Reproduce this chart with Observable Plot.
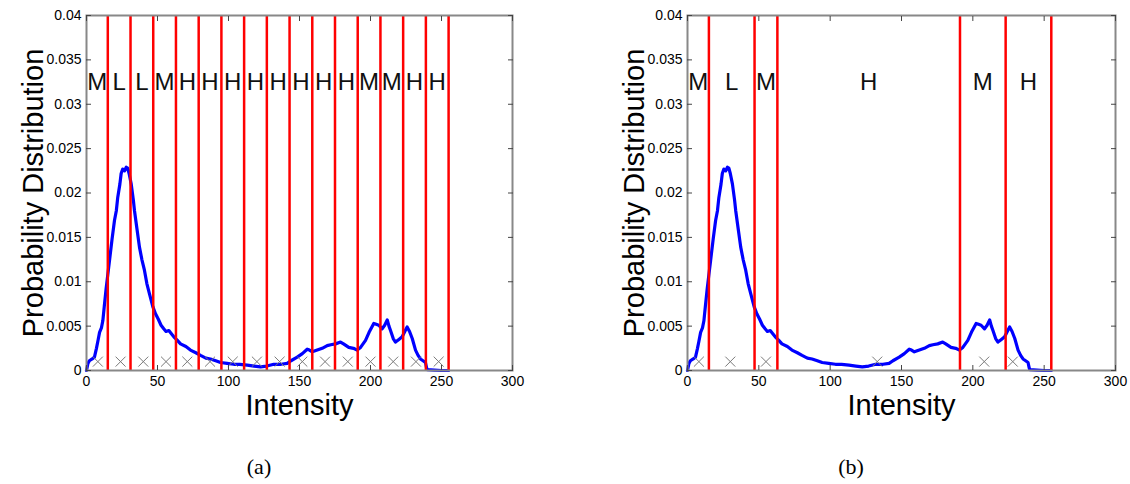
<!DOCTYPE html>
<html><head><meta charset="utf-8">
<script src="https://cdn.jsdelivr.net/npm/d3@7"></script>
<script src="https://cdn.jsdelivr.net/npm/@observablehq/plot@0.6"></script>
<style>
body{margin:0;background:#fff;width:1130px;height:484px;position:relative;overflow:hidden;font-family:"Liberation Sans",Arial,sans-serif}
.panel{position:absolute;top:0}
.cap{position:absolute;top:454px;font-family:"Liberation Serif","Times New Roman",serif;font-size:22px;transform:translateX(-50%);color:#000}
</style></head><body>
<div id="a" class="panel" style="left:0"></div>
<div id="b" class="panel" style="left:565px"></div>
<div class="cap" style="left:259px">(a)</div>
<div class="cap" style="left:851px">(b)</div>
<script>
// Histogram (probability distribution of intensity)
const intensity = [0,1,2,4,5.6,7,8,9.2,10.5,11.5,12.5,13.8,15,16.2,18,19.7,21,22,23.5,24.4,25.5,26.8,28,29,30,31.5,33,33.8,35.5,37.3,39,40.8,42.5,44.4,46.7,48.6,50.5,52.5,54.4,56,58,59.5,61.5,64,66.2,70,73.2,77,80.3,84,87.3,91,94.4,99,103.7,108,113.2,118,122.5,127,131.9,137,141.3,144,148.4,152,155.4,157,159,162.5,166,169.5,172,175.4,178.9,181,184.7,188,190.6,193,196.5,199,202.3,204,205.8,208.2,210,211.8,213,214.1,216,217.6,220,222.3,224.5,225.8,227.5,229.4,231.7,233.5,235.2,237,238.7,239.5,240,245,250,255];
const probability = [0,0.0008,0.0011,0.0013,0.0015,0.0025,0.0033,0.0043,0.0048,0.0056,0.0072,0.0092,0.0108,0.0124,0.0148,0.0169,0.0180,0.0195,0.0210,0.0222,0.0227,0.0225,0.0229,0.0228,0.0222,0.0210,0.0192,0.0180,0.0160,0.0139,0.0125,0.0113,0.0098,0.0086,0.0072,0.0064,0.0058,0.0051,0.0047,0.0044,0.0045,0.0042,0.0038,0.0034,0.0030,0.0027,0.0023,0.0020,0.0017,0.0014,0.0013,0.0011,0.0009,0.0008,0.0007,0.0007,0.0006,0.0005,0.0004,0.0005,0.0007,0.0007,0.0008,0.0011,0.0015,0.0019,0.0024,0.0023,0.0021,0.0023,0.0025,0.0028,0.0029,0.0030,0.0032,0.0030,0.0026,0.0025,0.0023,0.0026,0.0034,0.0043,0.0053,0.0052,0.0051,0.0047,0.0051,0.0057,0.0050,0.0045,0.0036,0.0032,0.0035,0.0038,0.0045,0.0049,0.0044,0.0036,0.0023,0.0017,0.0013,0.0011,0.0009,0.0003,0.0001,0.00005,0,0];

const xTicks = [0,50,100,150,200,250,300];
const yTicks = [0,0.005,0.01,0.015,0.02,0.025,0.03,0.035,0.04];
const yTickLabels = ["0","0.005","0.01","0.015","0.02","0.025","0.03","0.035","0.04"];

// Panel (a)
const boundariesA = [15,31,47,63,79,95,111,127,143,159,175,191,207,223,239,255];
const labelsA = ["M","L","L","M","H","H","H","H","H","H","H","H","M","M","H","H"];
const crossesA = [8,24,40,56,71,87,103,120,136,152,168,184,200,216,232,248];

// Panel (b)
const boundariesB = [15,47,63,191,223,255];
const labelsB = ["M","L","M","H","M","H"];
const crossesB = [8,30,55,133,208,228];

const labelLevel = 0.0325;
const crossLevel = 0.001;
const xTitle = "Intensity";
const yTitle = "Probability Distribution";

const FONT = "'Liberation Sans', Arial, Helvetica, sans-serif";

function panel(el, {boundaries, labels, crosses, marginLeft, marginRight}) {
  const curve = intensity.map((x, i) => ({x, y: probability[i]}));
  const edges = [0, ...boundaries];
  const segs = labels.map((t, i) => ({t, x: (edges[i] + edges[i + 1]) / 2}));
  const chart = Plot.plot({
    width: 565, height: 430,
    marginLeft, marginRight, marginTop: 15, marginBottom: 60,
    x: {domain: [0, 300]},
    y: {domain: [0, 0.04]},
    style: {fontFamily: FONT, fontSize: "14px", color: "#000", background: "transparent", overflow: "visible"},
    marks: [
      Plot.line(curve, {x: "x", y: "y", stroke: "#0000ff", strokeWidth: 3.2}),
      Plot.dot(crosses, {x: d => d, y: () => crossLevel, symbol: "times", r: 4.6, stroke: "#7a7a7a", strokeWidth: 1}),
      Plot.ruleX(boundaries, {stroke: "#ff0000", strokeWidth: 2.5}),
      Plot.text(segs, {x: "x", y: () => labelLevel, text: "t", fontSize: 24, fill: "#111"}),
      Plot.frame({stroke: "#888", strokeWidth: 2}),
      Plot.axisX({ticks: xTicks, tickSize: -5, tickPadding: 11, label: null, fontSize: 14, stroke: "#444"}),
      Plot.axisX({anchor: "top", ticks: xTicks, tickSize: -5, tickFormat: () => "", label: null, stroke: "#444"}),
      Plot.axisY({ticks: yTicks, tickSize: -5, tickPadding: 10, tickFormat: d => yTickLabels[yTicks.indexOf(d)], label: null, fontSize: 14, stroke: "#444"}),
      Plot.axisY({anchor: "right", ticks: yTicks, tickSize: -5, tickFormat: () => "", label: null, stroke: "#444"}),
      Plot.text([xTitle], {frameAnchor: "bottom", dy: 35, lineAnchor: "middle", textAnchor: "middle", text: d => d, fontSize: 29, fill: "#000"}),
      Plot.text([yTitle], {frameAnchor: "left", dx: -53, rotate: -90, lineAnchor: "middle", textAnchor: "middle", text: d => d, fontSize: 29, fill: "#000"})
    ]
  });
  document.getElementById(el).append(chart);
}

panel("a", {boundaries: boundariesA, labels: labelsA, crosses: crossesA, marginLeft: 86, marginRight: 53});
panel("b", {boundaries: boundariesB, labels: labelsB, crosses: crossesB, marginLeft: 122, marginRight: 15});
</script>
</body></html>
